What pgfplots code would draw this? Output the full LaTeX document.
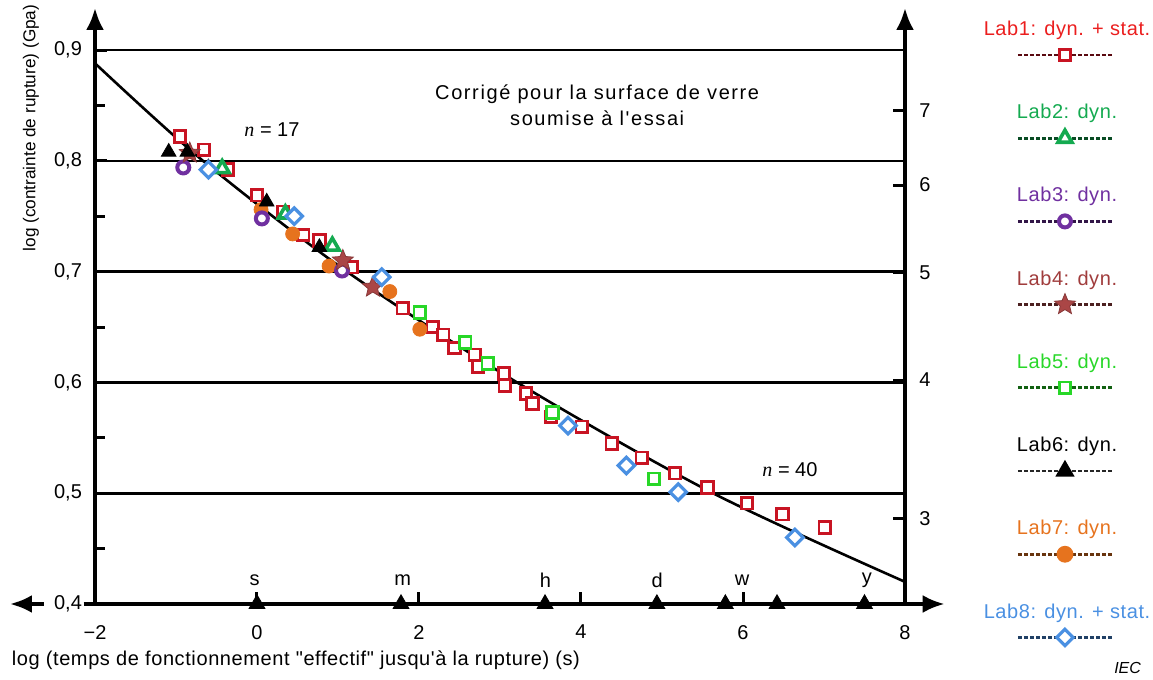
\documentclass[border=0pt]{standalone}
\usepackage{fontspec}
\setmainfont{Liberation Sans}
\newfontfamily\seriffont{Liberation Serif}
\newfontfamily\titlefont{Liberation Sans}[LetterSpace=8]
\newfontfamily\labfont{Liberation Sans}[LetterSpace=3]
\usepackage{pgfplots}
\pgfplotsset{compat=1.18}
\usetikzlibrary{arrows.meta}

\definecolor{lab1}{RGB}{200,20,35}
\definecolor{lab1t}{RGB}{235,30,30}
\definecolor{lab2}{RGB}{20,170,80}
\definecolor{lab3}{RGB}{112,48,160}
\definecolor{lab4}{RGB}{170,70,70}
\definecolor{lab4t}{RGB}{160,60,60}
\definecolor{lab5}{RGB}{40,215,40}
\definecolor{lab6}{RGB}{0,0,0}
\definecolor{lab7}{RGB}{230,115,30}
\definecolor{lab8}{RGB}{74,144,226}

\pgfdeclareplotmark{fstar}{%
  \pgfpathmoveto{\pgfpointpolar{90}{\pgfplotmarksize}}%
  \pgfpathlineto{\pgfpointscale{0.45}{\pgfpointpolar{126}{\pgfplotmarksize}}}%
  \pgfpathlineto{\pgfpointpolar{162}{\pgfplotmarksize}}%
  \pgfpathlineto{\pgfpointscale{0.45}{\pgfpointpolar{198}{\pgfplotmarksize}}}%
  \pgfpathlineto{\pgfpointpolar{234}{\pgfplotmarksize}}%
  \pgfpathlineto{\pgfpointscale{0.45}{\pgfpointpolar{270}{\pgfplotmarksize}}}%
  \pgfpathlineto{\pgfpointpolar{306}{\pgfplotmarksize}}%
  \pgfpathlineto{\pgfpointscale{0.45}{\pgfpointpolar{342}{\pgfplotmarksize}}}%
  \pgfpathlineto{\pgfpointpolar{18}{\pgfplotmarksize}}%
  \pgfpathlineto{\pgfpointscale{0.45}{\pgfpointpolar{54}{\pgfplotmarksize}}}%
  \pgfpathclose
  \pgfusepathqfillstroke
}

\tikzset{tl/.style={font=\fontsize{10}{12}\selectfont}}
\pgfplotsset{
  l1/.style={only marks, mark=square*, mark size=2.9pt, mark options={solid, draw=lab1, fill=white, line width=1.4pt}},
  l2/.style={only marks, mark=triangle*, mark size=4pt, mark options={solid, draw=lab2, fill=white, line width=1.8pt}},
  l3/.style={only marks, mark=*, mark size=3pt, mark options={solid, draw=lab3, fill=white, line width=2pt}},
  l4/.style={only marks, mark=fstar, mark size=5.5pt, mark options={solid, draw=lab4!80!black, fill=lab4, line width=0.4pt}},
  l5/.style={only marks, mark=square*, mark size=2.9pt, mark options={solid, draw=lab5, fill=white, line width=1.4pt}},
  l6/.style={only marks, mark=triangle*, mark size=4.2pt, mark options={solid, draw=black, fill=black}},
  l7/.style={only marks, mark=*, mark size=3.5pt, mark options={solid, draw=lab7, fill=lab7}},
  l8/.style={only marks, mark=square*, mark size=2.9pt, mark options={solid, rotate=45, draw=lab8, fill=white, line width=1.6pt}},
  legline/.style={sharp plot, dash pattern=on 2pt off 1pt, line width=1.4pt, mark indices={2}},
}

\begin{document}
\begin{tikzpicture}
\useasboundingbox (-47.5pt,-38pt) rectangle (529pt,302pt);
\begin{axis}[
  at={(0,0)}, anchor=south west,
  scale only axis, width=405pt, height=277pt,
  xmin=-2, xmax=8, ymin=0.4, ymax=0.9,
  axis line style={draw=none},
  clip=false,
  xtick={-2,0,2,4,6,8},
  xticklabels={−2,0,2,4,6,8},
  ytick={0.4,0.5,0.6,0.7,0.8,0.9},
  yticklabels={{0,4},{0,5},{0,6},{0,7},{0,8},{0,9}},
  minor ytick={0.45,0.55,0.65,0.75,0.85},
  xtick pos=bottom, ytick pos=left,
  tick align=inside,
  major tick length=6pt, minor tick length=5pt,
  tick style={black, line width=1.5pt},
  ymajorgrids, grid style={black, line width=1.3pt},
  tick label style={font=\fontsize{10}{12}\selectfont},
  yticklabel style={xshift=-3pt},
  xticklabel style={yshift=-7pt},
]
% axis lines with arrows
\draw[line width=2pt, -{Latex[length=11pt,width=9pt]}] (axis cs:-2,0.4) -- (axis cs:-2,0.938);
\draw[line width=2pt, -{Latex[length=11pt,width=9pt]}] (axis cs:8,0.4) -- (axis cs:8,0.938);
\draw[line width=2pt, -{Latex[length=11pt,width=9pt]}] (axis cs:-2.14,0.4) -- (axis cs:8.49,0.4);
\draw[line width=2pt, {Latex[length=11pt,width=9pt]}-] (axis cs:-3.05,0.4) -- (axis cs:-2.63,0.4);

% right-hand scale (log10 of 3..7)
\draw[line width=1.5pt] (axis cs:8,0.47712) -- ++(-6pt,0pt);
\draw[line width=1.5pt] (axis cs:8,0.60206) -- ++(-6pt,0pt);
\draw[line width=1.5pt] (axis cs:8,0.69897) -- ++(-6pt,0pt);
\draw[line width=1.5pt] (axis cs:8,0.77815) -- ++(-6pt,0pt);
\draw[line width=1.5pt] (axis cs:8,0.84510) -- ++(-6pt,0pt);
\node[tl, anchor=west, inner sep=0pt, xshift=7pt] at (axis cs:8,0.47712) {3};
\node[tl, anchor=west, inner sep=0pt, xshift=7pt] at (axis cs:8,0.60206) {4};
\node[tl, anchor=west, inner sep=0pt, xshift=7pt] at (axis cs:8,0.69897) {5};
\node[tl, anchor=west, inner sep=0pt, xshift=7pt] at (axis cs:8,0.77815) {6};
\node[tl, anchor=west, inner sep=0pt, xshift=7pt] at (axis cs:8,0.84510) {7};

% data
\addplot[l1] coordinates {(-0.95,0.822)(-0.654,0.810)(-0.358,0.792)(0.0,0.769)(0.32,0.754)(0.57,0.733)(0.77,0.728)(1.17,0.704)(1.80,0.667)(2.17,0.650)(2.30,0.643)(2.44,0.631)(2.69,0.625)(2.73,0.614)(3.05,0.608)(3.06,0.597)(3.32,0.590)(3.40,0.581)(3.63,0.569)(4.01,0.560)(4.38,0.545)(4.75,0.532)(5.16,0.518)(5.56,0.505)(6.05,0.491)(6.49,0.481)(7.01,0.469)};
\addplot[l5] coordinates {(2.01,0.663)(2.57,0.636)(2.85,0.617)(3.65,0.573)(4.90,0.513)};
\addplot[l7] coordinates {(0.05,0.756)(0.44,0.734)(0.89,0.705)(1.64,0.682)(2.01,0.648)};
\addplot[l3] coordinates {(-0.91,0.794)(0.06,0.748)(1.05,0.701)};
\addplot[l4] coordinates {(-0.83,0.807)(1.06,0.710)(1.43,0.686)};
\addplot[l2] coordinates {(-0.43,0.793)(0.35,0.752)(0.93,0.723)};
\addplot[l6] coordinates {(-1.09,0.808)(-0.86,0.808)(-0.6,0.794)(0.12,0.763)(0.77,0.722)};
\addplot[l8] coordinates {(-0.60,0.792)(0.46,0.750)(1.54,0.695)(3.84,0.561)(4.56,0.525)(5.20,0.501)(6.64,0.460)};

% fitted curve
\addplot[black, line width=1.3pt, smooth] coordinates {(-2,0.888)(-0.667,0.8)(1.11,0.7)(3.21,0.6)(5.63,0.5)(8,0.42)};

% time markers
\addplot[only marks, mark=triangle*, mark size=4.6pt, black] coordinates {(0,0.4)(1.778,0.4)(3.556,0.4)(4.937,0.4)(5.782,0.4)(6.42,0.4)(7.5,0.4)};
\node[tl] at (axis cs:-0.03,0.4217) {s};
\node[tl] at (axis cs:1.80,0.4217) {m};
\node[tl] at (axis cs:3.56,0.4217) {h};
\node[tl] at (axis cs:4.94,0.4217) {d};
\node[tl] at (axis cs:5.99,0.4217) {w};
\node[tl] at (axis cs:7.53,0.4217) {y};

% annotations
\node[tl] at (axis cs:0.185,0.828) {{\seriffont\itshape n} = 17};
\node[tl] at (axis cs:6.58,0.521) {{\seriffont\itshape n} = 40};
\node[align=center, font=\fontsize{10}{13}\titlefont] at (axis cs:4.2,0.8505) {Corrigé pour la surface de verre\\soumise à l'essai};

% axis labels
\node[font=\fontsize{10}{12}\labfont] at (axis cs:0.48,0.3495) {log (temps de fonctionnement "effectif" jusqu'à la rupture) (s)};
\node[rotate=90, font=\fontsize{8.6}{10}\selectfont] at (axis cs:-2.79,0.8296) {log (contrainte de rupture) (Gpa)};
\node[anchor=east, font=\fontsize{8}{10}\selectfont\itshape] at (axis cs:11.0,0.342) {IEC};

% legend (drawn on the axis' own coordinates, outside the plot area)
\addplot[l1, legline, lab1!45!black] coordinates {(9.395,0.8955)(9.975,0.8955)(10.556,0.8955)};
\addplot[l2, legline, lab2!45!black] coordinates {(9.395,0.8204)(9.975,0.8204)(10.556,0.8204)};
\addplot[l3, legline, lab3!45!black] coordinates {(9.395,0.7453)(9.975,0.7453)(10.556,0.7453)};
\addplot[l4, legline, lab4!45!black] coordinates {(9.395,0.6702)(9.975,0.6702)(10.556,0.6702)};
\addplot[l5, legline, lab5!45!black] coordinates {(9.395,0.5951)(9.975,0.5951)(10.556,0.5951)};
\addplot[l6, legline, black!85] coordinates {(9.395,0.5200)(9.975,0.5200)(10.556,0.5200)};
\addplot[l7, legline, lab7!45!black] coordinates {(9.395,0.4449)(9.975,0.4449)(10.556,0.4449)};
\addplot[l8, legline, lab8!45!black] coordinates {(9.395,0.3698)(9.975,0.3698)(10.556,0.3698)};

\node[text=lab1t, font=\fontsize{10}{12}\labfont] at (axis cs:10.0,0.9177) {Lab1: dyn. + stat.};
\node[text=lab2, font=\fontsize{10}{12}\labfont] at (axis cs:10.0,0.8426) {Lab2: dyn.};
\node[text=lab3, font=\fontsize{10}{12}\labfont] at (axis cs:10.0,0.7675) {Lab3: dyn.};
\node[text=lab4t, font=\fontsize{10}{12}\labfont] at (axis cs:10.0,0.6924) {Lab4: dyn.};
\node[text=lab5, font=\fontsize{10}{12}\labfont] at (axis cs:10.0,0.6173) {Lab5: dyn.};
\node[text=black, font=\fontsize{10}{12}\labfont] at (axis cs:10.0,0.5422) {Lab6: dyn.};
\node[text=lab7, font=\fontsize{10}{12}\labfont] at (axis cs:10.0,0.4671) {Lab7: dyn.};
\node[text=lab8, font=\fontsize{10}{12}\labfont] at (axis cs:10.0,0.3920) {Lab8: dyn. + stat.};
\end{axis}
\end{tikzpicture}
\end{document}
